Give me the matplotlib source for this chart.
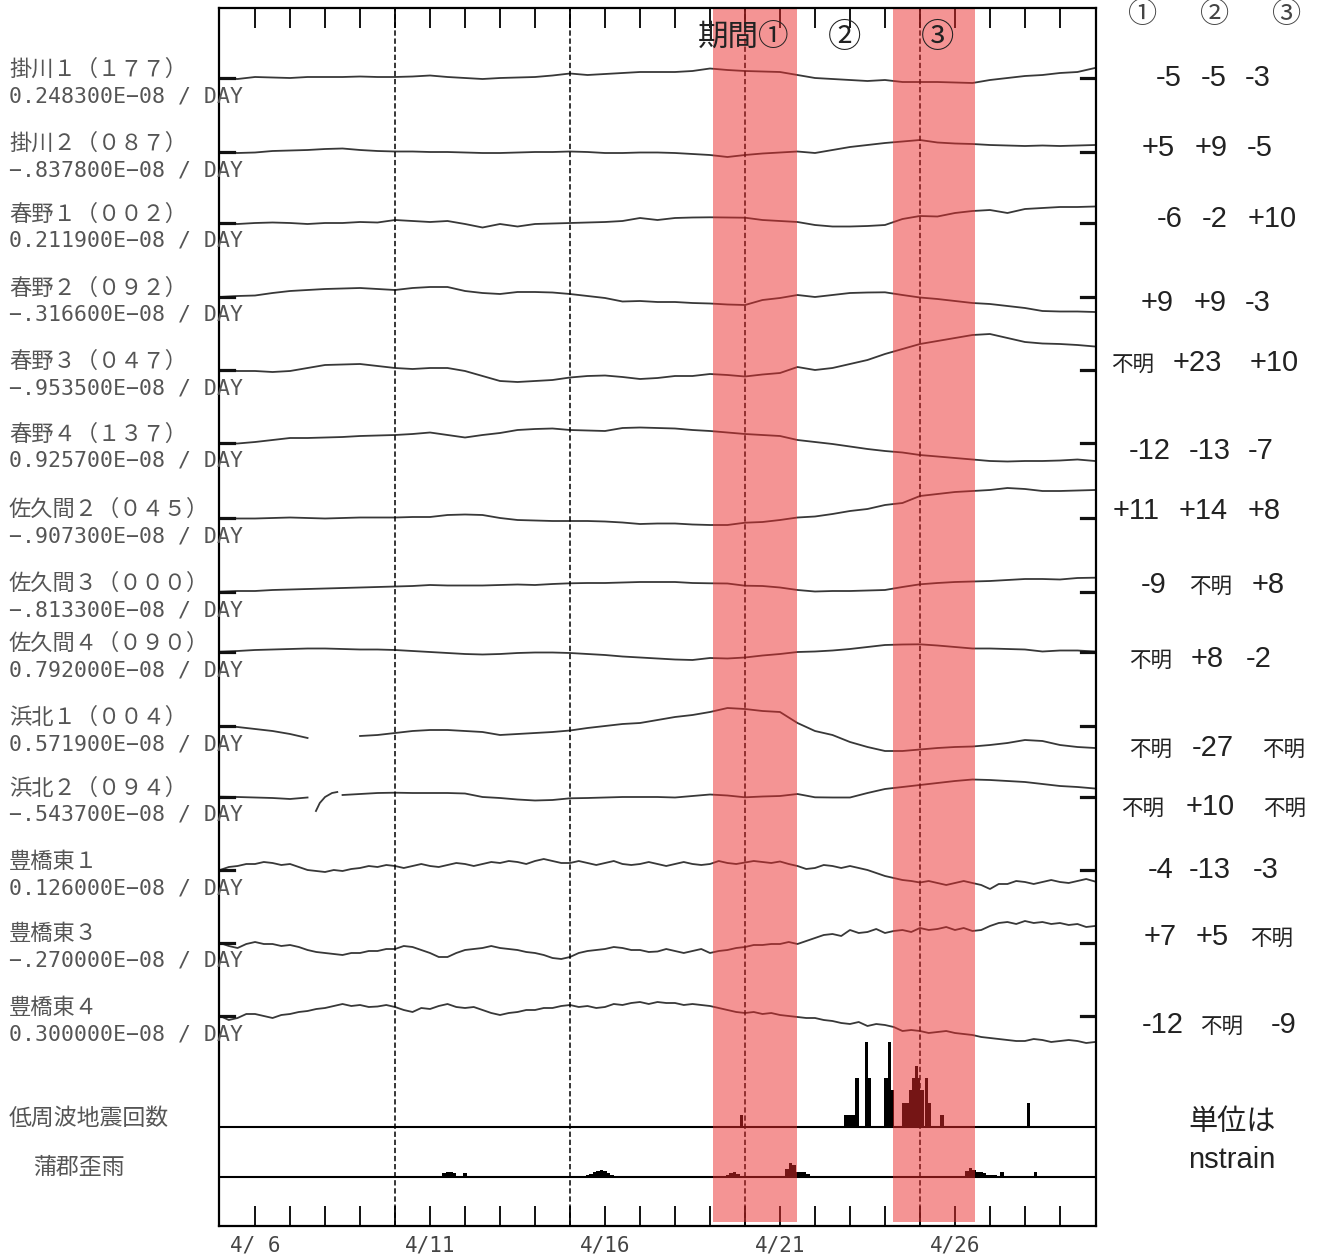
import numpy as np
import matplotlib
matplotlib.use('Agg')
import matplotlib.pyplot as plt
from matplotlib.ticker import FixedLocator

plt.rcParams['font.family'] = ['Noto Sans CJK JP', 'DejaVu Sans']

# ---------------- data ----------------
station_names = ['掛川１（１７７）', '掛川２（０８７）', '春野１（００２）', '春野２（０９２）',
                 '春野３（０４７）', '春野４（１３７）', '佐久間２（０４５）', '佐久間３（０００）',
                 '佐久間４（０９０）', '浜北１（００４）', '浜北２（０９４）', '豊橋東１',
                 '豊橋東３', '豊橋東４']
scale_labels = ['0.248300E−08 / DAY', '−.837800E−08 / DAY', '0.211900E−08 / DAY',
                '−.316600E−08 / DAY', '−.953500E−08 / DAY', '0.925700E−08 / DAY',
                '−.907300E−08 / DAY', '−.813300E−08 / DAY', '0.792000E−08 / DAY',
                '0.571900E−08 / DAY', '−.543700E−08 / DAY', '0.126000E−08 / DAY',
                '−.270000E−08 / DAY', '0.300000E−08 / DAY']

nan = np.nan
# strain deflections (upward positive), sampled every half day from 4/5 to 4/30
kakegawa1 = [0, -1, 1, 0.5, 0, 1, 1, 1, 1.5, 1, 1, 1.5, 2.5, 1, 0, -1, 0, 0.5, 1, 2.5, 4.5, 3, 4, 5, 6, 6,
             6, 7, 9.5, 8, 7, 6.5, 6, 3, 0, -1, -2, -3, -2, -4, -4, -4, -4.5, -5, -2, 0, 2, 3, 5, 6, 10]
kakegawa2 = [0, -1, -0.5, 1, 1.5, 2, 3, 3.5, 2, 1, 0.5, 0.5, 0, 0, -0.5, -1, -1, -0.5, 0, 0, 0.5, 0, -1, -1,
             -0.5, -0.5, -1, -2, -3, -5, -3, -1.5, -0.5, 0.5, -1, 2, 5, 7, 9, 10.5, 12, 9.5, 8.5, 8, 7,
             6.5, 6, 6.5, 6, 6.5, 7]
haruno1 = [0, -1, 0, 0.5, 0, -1, 0, 0, 1, 0.5, 3, 2, 1, 2, -1, -4.5, -1, -3.5, -1, -0.5, 0, 0.5, 1, 2, 5, 3,
           5, 5.5, 5.7, 5.5, 5.3, 3, 2, 1, -2, -3.5, -3.5, -3, -2, 4, 7, 6.5, 10, 12, 13, 10, 14, 15, 16,
           16, 16.5]
haruno2 = [0, 1, 1.5, 4, 6, 7, 8, 8.5, 9, 8, 7, 9, 10, 10, 6, 4, 3, 5, 5, 4.5, 3, 1, -1, -4.5, -4, -5, -5,
           -6, -6.5, -7.5, -8, -3, -1, 2, 0, 2, 4, 4.5, 4.7, 2, -0.5, -2, -4, -6, -7, -9, -11, -14, -14.5,
           -14.5, -15]
haruno3 = [0, -1, -1, -2, -1, 2, 5, 5.5, 6, 4, 2, 1, 2, 2, -1, -6, -11, -12, -11, -10, -7.5, -6, -5.5, -7,
           -9, -8, -6, -6, -4, -5, -6.5, -4.5, -3, 3, 0, 2, 6, 10, 16, 21, 26, 29, 32, 35, 36, 32, 28,
           26.5, 26, 25, 23.5]
haruno4 = [0, -0.5, 1, 3, 5, 5, 5.5, 6, 7, 7.5, 8, 9, 10.5, 8, 5.5, 8, 10, 13, 14, 14.5, 13, 12.5, 12, 15,
           15.5, 15, 14.5, 13, 12, 10.5, 9, 8, 7, 3, 1, -1, -3.5, -6, -8, -9.5, -12, -13.5, -15, -16.5,
           -18, -18.5, -18, -18, -17.5, -16.5, -18]
sakuma2 = [0, -0.5, -0.5, 0, 0.5, 0, -0.5, 0, 0.5, 0.5, 0.5, 1, 1, 3, 3.5, 3, 0, -2, -2.5, -3, -3, -3,
           -3.5, -4.5, -6, -5.5, -5.5, -6.5, -7, -7, -4.7, -4, -2, 0.5, 1.5, 4, 7, 9, 13, 15, 22, 24, 26,
           27, 28, 30, 29, 27, 27, 27.5, 28]
sakuma3 = [0.3, 1, 1, 2, 2.5, 3, 3.5, 4, 4.5, 5, 5.5, 6, 7, 6.5, 6.5, 6.5, 7, 7.5, 7, 8, 8.7, 9, 9, 9.5,
           10, 10, 10, 9, 8.7, 8.5, 6.3, 6, 4.5, 2, 0.5, 1, 1, 1.5, 2, 5, 7.7, 9, 10, 10.5, 11, 12, 13, 13,
           12.5, 14, 14.3]
sakuma4 = [0.3, 1, 2, 2.5, 3, 3.5, 3.5, 3, 2.5, 2.5, 2, 1, 0, -1, -2, -2.5, -2, -1, -0.5, -0.5, -1, -2,
           -3, -4.5, -5.5, -6.5, -7.5, -8, -6, -6.5, -5.5, -3.5, -2, 0, 0.5, 1.5, 3, 5, 7, 7.5, 7.7, 6.5,
           5, 3.5, 3.5, 3, 2.5, 0.5, 1.5, 1.5, 0.5]
hamakita1 = [0, -1, -3, -5, -8, -12, nan, nan, -10, -9, -7, -5, -4, -4, -5, -6, -9, -8, -7, -6, -4.5, -2,
             0, 2, 3, 6, 9, 11, 14, 18, 17, 15, 14, 3, -5, -9, -16, -21, -25, -25, -23.5, -22, -21, -20.5,
             -19, -17, -14, -15, -19, -21, -22]
hamakita2 = [0.3, 0, -0.5, -1, -2, -0.5, nan, 2, 3, 4, 4.3, 4, 4, 4, 3.5, 0, -1, -2.5, -3.5, -3, -1.3,
             -1, -0.5, 0, 0, 0, -0.5, 1, 2.5, 1.5, -0.3, 0.5, 1, 3, -0.3, -0.5, -0.5, 4, 8, 10, 12, 14, 16,
             17.5, 17, 16, 15, 13, 11, 10, 8.5]
hamakita2_piece_days = [7.74, 7.85, 8.0, 8.2, 8.35]
hamakita2_piece = [-14, -6, 0, 4, 5]
# noisier stations, sampled every quarter day
toyohashi1 = [0, 3, 4, 6, 6, 8, 7, 5, 6, 3, 0, -1, -2, 0, -1, 1, 2, 4, 3, 5, 4, 2, 4, 6,
              4, 3, 5, 7, 6, 4, 6, 8, 7, 9, 8, 6, 9, 11, 9, 7, 7, 9, 7, 5, 7, 9, 6, 5,
              6, 8, 6, 4, 6, 8, 6, 5, 6, 9, 7, 6, 7.5, 9, 8, 7, 8.5, 6, 4, 1, 2, 5, 4, 2,
              4, 2, 0, -3, -6, -8, -10, -11, -12.5, -11, -13, -15, -13, -11, -13, -15,
              -19, -14, -14, -11, -12, -14, -12, -10, -12, -13, -11, -9, -11.5]
toyohashi3 = [0, -3, -5, -1, 1, -1, -1, -3, -2, -4, -7, -9, -10, -11, -12, -10, -10, -8, -8, -6,
              -6, -3, -4, -7, -10, -14, -14, -10, -7, -6, -5, -3, -5, -6, -7, -9, -10, -12, -15, -16,
              -14, -10, -8, -7, -6, -4, -5, -7, -7, -9, -8.5, -6, -8, -10, -8, -6, -10, -8, -7, -5,
              -4, -2, -2, -1, -1, 1, -1, 2, 5, 8, 9, 7, 13, 10, 11, 14, 10, 12, 13, 11,
              15, 13, 14, 16, 13, 15, 12, 13, 17, 20, 21, 19, 22, 20, 21, 19, 20, 18, 19, 16, 17]
toyohashi4 = [0, -4, -2, 2, 2, 0, -2, 1, 2, 4, 5, 7, 8, 10, 12, 10, 11, 9, 9.5, 11, 9, 6, 4, 8,
              7, 10, 12, 9, 8, 9, 6, 3, 1, 3, 4, 6, 6, 8, 8, 10, 11, 9, 10, 8, 9, 12, 11, 13,
              14, 12, 14, 13, 13, 11, 12, 11, 10, 8, 6, 4, 3, 4, 2, 3, 1, 0, -1, -2, -2, -4, -5, -7,
              -8, -6, -10, -8, -9, -11, -15, -14, -15, -17, -16, -15, -17, -18, -19, -21,
              -22, -23, -24, -25, -25, -23, -24, -26, -25, -24, -25, -27, -26]
traces = [kakegawa1, kakegawa2, haruno1, haruno2, haruno3, haruno4, sakuma2, sakuma3,
          sakuma4, hamakita1, hamakita2, toyohashi1, toyohashi3, toyohashi4]

# low-frequency earthquake counts (2-hour bins)
eq_days = [19.90, 22.87, 22.97, 23.06, 23.14, 23.20, 23.46, 23.56, 24.03, 24.13, 24.21, 24.54,
           24.63, 24.73, 24.81, 24.89, 24.96, 25.06, 25.19, 25.26, 25.63, 28.11]
eq_counts = [1, 1, 1, 1, 1, 4, 7, 4, 4, 7, 3, 2, 2, 3, 4, 5, 4, 3, 4, 2, 1, 2]

# rainfall at Gamagori
rain_days = [11.1, 11.2, 11.3, 11.4, 11.5, 11.6, 11.7, 12.0, 15.0, 15.1, 15.3, 15.5, 15.6, 15.7,
             15.8, 15.9, 16.0, 16.1, 16.2, 16.5, 19.06, 19.5, 19.6, 19.7, 19.8, 21.2, 21.3, 21.4,
             21.5, 21.6, 21.7, 21.8, 21.94, 26.35, 26.45, 26.55, 26.65, 26.75, 26.85, 26.95, 27.05,
             27.15, 27.35, 28.3]
rain_vals = [1.5, 1.5, 1.5, 4, 5, 5, 4.5, 4, 1, 1, 1, 2, 3, 5, 6, 7, 6, 4, 2, 1.5, 1.5, 2, 4, 5, 3,
             8, 14, 12, 5, 5, 5, 3, 1.5, 6, 9, 7, 5, 5, 4, 2, 2, 2, 5, 5]

periods = [(19.09, 21.49), (24.23, 26.57)]
period_marks = [10, 15, 20, 25]
tick_days = [6, 11, 16, 21, 26]
tick_labels = ['4/ 6', '4/11', '4/16', '4/21', '4/26']

changes = [['-5', '-5', '-3'], ['+5', '+9', '-5'], ['-6', '-2', '+10'], ['+9', '+9', '-3'],
           ['不明', '+23', '+10'], ['-12', '-13', '-7'], ['+11', '+14', '+8'], ['-9', '不明', '+8'],
           ['不明', '+8', '-2'], ['不明', '-27', '不明'], ['不明', '+10', '不明'], ['-4', '-13', '-3'],
           ['+7', '+5', '不明'], ['-12', '不明', '-9']]

# ---------------- layout ----------------
W, H = 1322, 1260
trace_base = [78, 152, 223, 297, 370, 443, 518, 592, 652, 726, 797, 870, 943, 1016]
eq_base, rain_base = 1127, 1177
eq_scale = 12.2
change_y = [78, 148, 219, 303, 363, 451, 511, 585, 659, 748, 807, 870, 937, 1025]
change_x = [[1169, 1214, 1258], [1158, 1211, 1260], [1170, 1215, 1272], [1157, 1210, 1258],
            [1133, 1197, 1274], [1150, 1210, 1261], [1136, 1203, 1264], [1154, 1211, 1268],
            [1151, 1207, 1259], [1151, 1213, 1284], [1143, 1210, 1285], [1161, 1210, 1266],
            [1160, 1212, 1272], [1163, 1222, 1284]]


def fx(x):
    return x / W


def fy(y):
    return 1 - y / H


fig = plt.figure(figsize=(W / 100, H / 100), dpi=100)
ax = fig.add_axes([fx(219), fy(1226), (1096 - 219) / W, (1226 - 8) / H])
ax.set_xlim(4.97, 30.03)
ax.set_ylim(1226, 8)

line_col = '#383838'
for vals, base in zip(traces, trace_base):
    v = np.array(vals, dtype=float)
    d = np.linspace(5, 30, len(v))
    ax.plot(d, base - v, color=line_col, lw=1.3, zorder=3)
    ax.plot([4.97, 5.4], [base, base], color='#111111', lw=2.3, zorder=3)
    ax.plot([29.6, 30.03], [base, base], color='#111111', lw=2.3, zorder=3)
ax.plot(hamakita2_piece_days, trace_base[10] - np.array(hamakita2_piece), color=line_col, lw=1.3, zorder=3)

ax.bar(eq_days, -eq_scale * np.array(eq_counts), bottom=eq_base, width=0.09,
       color='black', zorder=3)
ax.bar(rain_days, -np.array(rain_vals), bottom=rain_base, width=0.1, color='black', zorder=3)
ax.axhline(eq_base, color='black', lw=1.5, zorder=3)
ax.axhline(rain_base, color='black', lw=1.5, zorder=3)

for m in period_marks:
    ax.axvline(m, color='black', lw=1.1, ls=(0, (3.5, 1.8)), zorder=3)

for a, b in periods:
    ax.axvspan(a, b, ymin=0.003, ymax=1, color=(0.92, 0.17, 0.17), alpha=0.5, lw=0, zorder=6)

ax.set_yticks([])
ax.xaxis.set_major_locator(FixedLocator(tick_days))
ax.set_xticklabels(tick_labels)
ax.xaxis.set_minor_locator(FixedLocator(list(range(6, 30))))
ax.tick_params(axis='x', which='both', direction='in', length=14.5, width=1.3,
               top=True, bottom=True, labelsize=15, labelcolor='#444444', pad=7, color='black')
for lbl in ax.get_xticklabels():
    lbl.set_family('DejaVu Sans Mono')
for s in ax.spines.values():
    s.set_linewidth(1.6)
    s.set_zorder(7)

# left labels
for name, sc, base in zip(station_names, scale_labels, trace_base):
    fig.text(fx(9), fy(base - 9), name, ha='left', va='center', fontsize=16, color='#555555')
    fig.text(fx(9), fy(base + 18), sc, ha='left', va='center', fontsize=15.5,
             family='DejaVu Sans Mono', color='#555555')
fig.text(fx(9), fy(1118), '低周波地震回数', ha='left', va='center', fontsize=16.5, color='#555555')
fig.text(fx(33), fy(1167), '蒲郡歪雨', ha='left', va='center', fontsize=16.5, color='#555555')

# period labels
fig.text(fx(744), fy(38), '期間①', ha='center', va='center', fontsize=22, color='#222222', zorder=8)
fig.text(fx(845), fy(38), '②', ha='center', va='center', fontsize=24, color='#222222', zorder=8)
fig.text(fx(938), fy(38), '③', ha='center', va='center', fontsize=24, color='#222222', zorder=8)

# right table
for x, t in zip([1143, 1215, 1287], ['①', '②', '③']):
    fig.text(fx(x), fy(15), t, ha='center', va='center', fontsize=21, color='#444444')
for row, xs, y in zip(changes, change_x, change_y):
    for t, x in zip(row, xs):
        if t == '不明':
            fig.text(fx(x), fy(y + 2), t, ha='center', va='center', fontsize=15.5, color='#222222')
        else:
            fig.text(fx(x), fy(y), t, ha='center', va='center', fontsize=21,
                     family=['Liberation Sans', 'DejaVu Sans'], color='#222222')
fig.text(fx(1232), fy(1122), '単位は', ha='center', va='center', fontsize=21, color='#222222')
fig.text(fx(1232), fy(1160), 'nstrain', ha='center', va='center', fontsize=21,
         family=['Liberation Sans', 'DejaVu Sans'], color='#222222')

fig.savefig('out.png', dpi=100)
